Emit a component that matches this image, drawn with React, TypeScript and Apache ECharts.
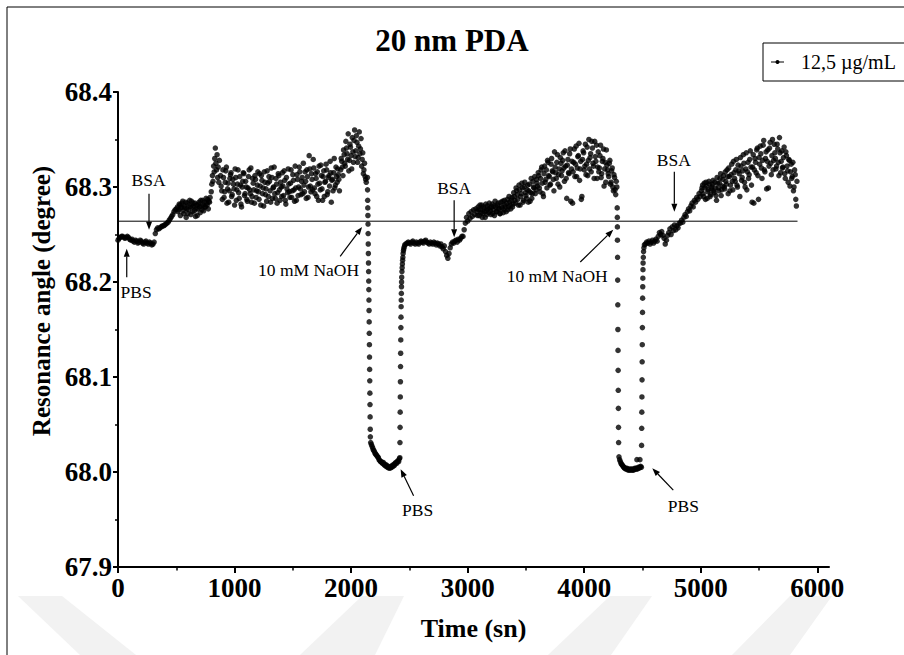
import React, { useEffect, useRef } from "react";
import * as echarts from "echarts";

const FONT = "'Liberation Serif', 'Times New Roman', serif";

// ---------- axes ----------
const X_MIN = 0;
const X_MAX = 6100;
const Y_MIN = 67.9;
const Y_MAX = 68.4;
const Y_INTERVAL = 0.1;
const xMajorTicks = [0, 1000, 2000, 3000, 4000, 5000, 6000];
const xMinorTicks = [500, 1500, 2500, 3500, 4500, 5500];

const titleText = "20 nm PDA";
const seriesName = "12,5 µg/mL";
const xName = "Time (sn)";
const yName = "Resonance angle (degree)";

// horizontal reference line
const referenceLevel = 68.264;
const referenceSpan = [0, 5830];

// ---------- data (time in s, angle in degree) ----------
// PBS baseline: start 0 s, every 10 s
const pbsBaseline = [
  68.244, 68.246, 68.247, 68.248, 68.248, 68.247, 68.246, 68.247, 68.248, 68.247,
  68.245, 68.244, 68.245, 68.243, 68.242, 68.244, 68.243, 68.241, 68.242, 68.244,
  68.243, 68.241, 68.240, 68.242, 68.243, 68.241, 68.240, 68.242, 68.241, 68.239,
  68.240, 68.242,
];
// BSA 1 rise: start 320 s, every 10 s
const bsaRise1 = [
  68.251, 68.255, 68.257, 68.256, 68.257, 68.258, 68.259, 68.259, 68.260, 68.261,
  68.262, 68.263, 68.265, 68.267, 68.269, 68.271, 68.274, 68.276, 68.277,
];
// plateau: start 510 s, every 10 s, plus second read offset by 5 s
const plateau1 = [
  68.279, 68.276, 68.281, 68.278, 68.283, 68.275, 68.280, 68.284, 68.277, 68.272,
  68.281, 68.279, 68.285, 68.274, 68.280, 68.283, 68.277, 68.270, 68.282, 68.279,
  68.286, 68.276, 68.281, 68.284, 68.279, 68.283, 68.287, 68.285, 68.289,
];
const plateau1b = [
  68.274, 68.282, 68.270, 68.279, 68.285, 68.272, 68.278, 68.268, 68.283, 68.276,
  68.286, 68.271, 68.279, 68.283, 68.275, 68.269, 68.281, 68.277, 68.284, 68.273,
  68.280, 68.286, 68.275, 68.279, 68.288, 68.281, 68.277, 68.284,
];
// jump: start 800 s, every 5 s
const jump1 = [
  68.295, 68.303, 68.312, 68.306, 68.322, 68.316, 68.330, 68.341, 68.325, 68.318,
  68.334, 68.310, 68.321, 68.305, 68.328,
];
// noisy band: start 880 s, every 10 s, plus second read offset by 5 s
const band1 = [
  68.312, 68.296, 68.318, 68.289, 68.305, 68.321, 68.298, 68.284, 68.309, 68.315,
  68.292, 68.303, 68.281, 68.310, 68.297, 68.318, 68.288, 68.302, 68.279, 68.306,
  68.314, 68.293, 68.300, 68.285, 68.311, 68.297, 68.320, 68.290, 68.304, 68.283,
  68.308, 68.296, 68.316, 68.287, 68.301, 68.312, 68.293, 68.280, 68.305, 68.298,
  68.317, 68.290, 68.306, 68.284, 68.310, 68.299, 68.321, 68.288, 68.303, 68.294,
  68.312, 68.286, 68.300, 68.315, 68.291, 68.307, 68.282, 68.298, 68.319, 68.295,
  68.304, 68.289, 68.313, 68.297, 68.322, 68.286, 68.308, 68.300, 68.316, 68.292,
  68.310, 68.325, 68.295, 68.306, 68.318, 68.289, 68.333, 68.301, 68.314, 68.297,
  68.320, 68.293, 68.309, 68.316, 68.286, 68.304, 68.323, 68.298, 68.311, 68.290,
  68.306, 68.318, 68.295, 68.312, 68.327, 68.284, 68.308, 68.315, 68.299, 68.321,
  68.305, 68.313, 68.296,
];
const band1b = [
  68.301, 68.287, 68.310, 68.295, 68.317, 68.283, 68.304, 68.296, 68.313, 68.290,
  68.308, 68.298, 68.319, 68.286, 68.303, 68.294, 68.311, 68.282, 68.300, 68.315,
  68.291, 68.306, 68.287, 68.299, 68.318, 68.293, 68.284, 68.309, 68.297, 68.312,
  68.289, 68.302, 68.295, 68.314, 68.281, 68.307, 68.299, 68.316, 68.292, 68.285,
  68.304, 68.311, 68.296, 68.320, 68.288, 68.300, 68.293, 68.309, 68.283, 68.314,
  68.297, 68.305, 68.290, 68.301, 68.317, 68.286, 68.310, 68.294, 68.303, 68.289,
  68.318, 68.296, 68.307, 68.285, 68.299, 68.313, 68.291, 68.321, 68.298, 68.306,
  68.293, 68.302, 68.316, 68.288, 68.311, 68.300, 68.319, 68.295, 68.308, 68.329,
  68.299, 68.314, 68.290, 68.303, 68.322, 68.297, 68.312, 68.286, 68.317, 68.305,
  68.324, 68.292, 68.310, 68.301, 68.315, 68.307, 68.296, 68.330, 68.302, 68.311,
  68.319, 68.308,
];
// peak before NaOH: start 1910 s, every 10 s (two interleaved reads)
const peak1a = [
  68.318, 68.327, 68.312, 68.334, 68.322, 68.341, 68.329, 68.317, 68.345, 68.333,
  68.352, 68.326, 68.360, 68.338, 68.347, 68.331, 68.358, 68.340, 68.322, 68.336,
  68.318, 68.311, 68.305,
];
const peak1b = [
  68.330, 68.321, 68.339, 68.325, 68.348, 68.335, 68.356, 68.328, 68.342, 68.319,
  68.337, 68.349, 68.332, 68.354, 68.326, 68.343, 68.335, 68.351, 68.329, 68.314,
  68.325, 68.308,
];
// NaOH drop 1: [time, angle]
const drop1 = [
  [2140, 68.310], [2141, 68.297], [2142, 68.286], [2143, 68.278], [2144, 68.270],
  [2145, 68.261], [2146, 68.251], [2147, 68.240], [2148, 68.230], [2149, 68.220],
  [2150, 68.211], [2151, 68.201], [2152, 68.192], [2153, 68.181], [2154, 68.170],
  [2155, 68.158], [2156, 68.146], [2157, 68.134], [2158, 68.121], [2159, 68.108],
  [2160, 68.096], [2161, 68.083], [2162, 68.071], [2163, 68.058], [2164, 68.045],
  [2165, 68.037],
];
// NaOH bottom 1: start 2168 s, every 6 s
const bottom1 = [
  68.031, 68.029, 68.027, 68.025, 68.023, 68.022, 68.020, 68.019, 68.018, 68.017,
  68.016, 68.015, 68.013, 68.012, 68.011, 68.011, 68.010, 68.009, 68.010, 68.008,
  68.007, 68.008, 68.006, 68.007, 68.005, 68.006, 68.004, 68.005, 68.004, 68.006,
  68.005, 68.007, 68.006, 68.008, 68.007, 68.009, 68.010, 68.009, 68.011, 68.012,
  68.011, 68.014,
];
// PBS recovery 1: [time, angle]
const rise1 = [
  [2418, 68.015], [2419, 68.031], [2420, 68.047], [2421, 68.063], [2422, 68.079],
  [2423, 68.095], [2424, 68.111], [2425, 68.125], [2426, 68.139], [2427, 68.152],
  [2428, 68.163], [2429, 68.174], [2430, 68.181], [2431, 68.188], [2432, 68.195],
  [2433, 68.200], [2434, 68.205], [2436, 68.211], [2438, 68.215], [2440, 68.219],
  [2442, 68.223], [2444, 68.226], [2446, 68.230], [2449, 68.233], [2452, 68.235],
  [2456, 68.237], [2460, 68.239],
];
// plateau 2: start 2470 s, every 10 s
const plateau2 = [
  68.240, 68.241, 68.242, 68.241, 68.240, 68.242, 68.243, 68.241, 68.240, 68.242,
  68.241, 68.240, 68.242, 68.243, 68.242, 68.241, 68.243, 68.244, 68.242, 68.241,
  68.240, 68.242, 68.241, 68.240, 68.242, 68.241, 68.239, 68.241, 68.240, 68.238,
  68.240, 68.237, 68.235, 68.238, 68.232, 68.228, 68.225, 68.230, 68.236, 68.240,
  68.242, 68.241, 68.243, 68.244, 68.242, 68.245, 68.244, 68.246, 68.248,
];
// BSA 2 rise: start 2960 s, every 10 s
const bsaRise2 = [
  68.248, 68.255, 68.262, 68.268, 68.264, 68.272, 68.267, 68.274, 68.269, 68.276,
  68.271, 68.277,
];
// band after BSA 2: start 3080 s, every 10 s, plus second read offset by 5 s
const band2a = [
  68.274, 68.279, 68.270, 68.276, 68.281, 68.272, 68.277, 68.268, 68.275, 68.280,
  68.273, 68.278, 68.271, 68.282, 68.276, 68.270, 68.279, 68.274, 68.283, 68.277,
  68.272, 68.280, 68.285, 68.276, 68.281, 68.274, 68.287, 68.279, 68.284, 68.277,
  68.289, 68.282,
];
const band2aB = [
  68.270, 68.276, 68.281, 68.273, 68.268, 68.279, 68.274, 68.282, 68.271, 68.277,
  68.283, 68.275, 68.279, 68.272, 68.280, 68.285, 68.274, 68.281, 68.277, 68.272,
  68.284, 68.278, 68.273, 68.286, 68.279, 68.283, 68.276, 68.290, 68.281, 68.286,
  68.279, 68.294,
];
// noisy band 2: start 3400 s, every 10 s, plus second read offset by 5 s
const band2b = [
  68.290, 68.283, 68.296, 68.287, 68.302, 68.281, 68.293, 68.299, 68.286, 68.305,
  68.291, 68.297, 68.284, 68.303, 68.294, 68.288, 68.306, 68.299, 68.293, 68.308,
  68.301, 68.312, 68.295, 68.318, 68.304, 68.290, 68.322, 68.308, 68.299, 68.326,
  68.311, 68.303, 68.330, 68.316, 68.296, 68.321, 68.309, 68.334, 68.313, 68.300,
  68.325, 68.317, 68.336, 68.306, 68.322, 68.288, 68.329, 68.314, 68.340, 68.319,
  68.283, 68.326, 68.311, 68.343, 68.320, 68.333, 68.307, 68.327, 68.290, 68.338,
  68.318, 68.345, 68.324, 68.312, 68.350, 68.331, 68.316, 68.341, 68.322, 68.348,
  68.327, 68.309, 68.337, 68.320, 68.344, 68.314, 68.330, 68.301, 68.326, 68.339,
  68.318, 68.311, 68.328, 68.305, 68.320, 68.296, 68.310, 68.292, 68.300,
];
const band2bB = [
  68.286, 68.299, 68.292, 68.281, 68.297, 68.290, 68.304, 68.284, 68.300, 68.294,
  68.288, 68.302, 68.296, 68.285, 68.309, 68.293, 68.300, 68.311, 68.297, 68.304,
  68.315, 68.299, 68.309, 68.321, 68.293, 68.314, 68.305, 68.318, 68.328, 68.312,
  68.302, 68.324, 68.317, 68.308, 68.337, 68.315, 68.326, 68.303, 68.319, 68.331,
  68.312, 68.328, 68.320, 68.338, 68.309, 68.323, 68.315, 68.335, 68.285, 68.327,
  68.316, 68.340, 68.324, 68.311, 68.332, 68.346, 68.319, 68.287, 68.329, 68.336,
  68.322, 68.313, 68.342, 68.328, 68.319, 68.335, 68.348, 68.325, 68.309, 68.332,
  68.344, 68.321, 68.316, 68.333, 68.310, 68.327, 68.340, 68.319, 68.305, 68.323,
  68.314, 68.325, 68.303, 68.317, 68.300, 68.313, 68.297, 68.306,
];
// NaOH drop 2: [time, angle]
const drop2 = [
  [4283, 68.278], [4284, 68.268], [4284.5, 68.258], [4285, 68.244], [4286, 68.226],
  [4287, 68.202], [4288, 68.176], [4289, 68.150], [4290, 68.128], [4291, 68.107],
  [4292, 68.086], [4293, 68.067], [4294, 68.047], [4295, 68.031],
];
// NaOH bottom 2: start 4298 s, every 6 s
const bottom2 = [
  68.016, 68.013, 68.011, 68.009, 68.008, 68.007, 68.006, 68.005, 68.004, 68.004,
  68.003, 68.004, 68.003, 68.002, 68.003, 68.002, 68.003, 68.002, 68.003, 68.002,
  68.003, 68.002, 68.003, 68.004, 68.003, 68.004, 68.003, 68.004, 68.005, 68.004,
  68.005, 68.006, 68.005,
];
// PBS recovery 2: [time, angle]
const rise2 = [
  [4452, 68.013], [4478, 68.013], [4492, 68.028], [4493, 68.046], [4494, 68.063],
  [4495, 68.079], [4496, 68.097], [4497, 68.116], [4498, 68.134], [4499, 68.152],
  [4500, 68.168], [4501, 68.183], [4502, 68.195], [4503, 68.204], [4504, 68.213],
  [4505, 68.220], [4507, 68.226], [4509, 68.232], [4512, 68.236], [4516, 68.239],
];
// plateau 3: start 4525 s, every 10 s
const plateau3 = [
  68.240, 68.242, 68.241, 68.243, 68.240, 68.242, 68.244, 68.241, 68.243, 68.245,
  68.243, 68.248, 68.252, 68.250, 68.253, 68.249, 68.246, 68.240, 68.244, 68.249,
  68.252, 68.256, 68.250, 68.258, 68.254, 68.260, 68.255, 68.259, 68.257, 68.262,
];
// BSA 3 rise: start 4825 s, every 10 s
const bsaRise3 = [
  68.262, 68.265, 68.263, 68.268, 68.271, 68.269, 68.274, 68.277, 68.275, 68.280,
  68.283, 68.279, 68.286, 68.284, 68.289, 68.287, 68.293, 68.290,
];
// noisy band 3: start 5005 s, every 10 s, plus second read offset by 5 s
const band3 = [
  68.296, 68.302, 68.290, 68.299, 68.305, 68.288, 68.297, 68.303, 68.292, 68.300,
  68.307, 68.294, 68.299, 68.286, 68.304, 68.296, 68.309, 68.291, 68.301, 68.312,
  68.298, 68.306, 68.318, 68.293, 68.311, 68.302, 68.324, 68.297, 68.315, 68.306,
  68.329, 68.300, 68.317, 68.290, 68.322, 68.310, 68.334, 68.305, 68.319, 68.297,
  68.326, 68.313, 68.338, 68.302, 68.321, 68.283, 68.330, 68.315, 68.341, 68.287,
  68.324, 68.335, 68.309, 68.344, 68.318, 68.330, 68.298, 68.339, 68.322, 68.347,
  68.313, 68.350, 68.328, 68.336, 68.319, 68.345, 68.326, 68.352, 68.315, 68.338,
  68.321, 68.342, 68.309, 68.333, 68.317, 68.329, 68.301, 68.324, 68.311, 68.296,
  68.318, 68.287, 68.306,
];
const band3b = [
  68.299, 68.293, 68.304, 68.287, 68.301, 68.295, 68.306, 68.290, 68.298, 68.303,
  68.296, 68.305, 68.291, 68.310, 68.299, 68.304, 68.314, 68.297, 68.308, 68.300,
  68.316, 68.303, 68.311, 68.320, 68.296, 68.313, 68.306, 68.327, 68.309, 68.318,
  68.302, 68.323, 68.314, 68.331, 68.307, 68.317, 68.325, 68.300, 68.336, 68.316,
  68.309, 68.329, 68.321, 68.284, 68.334, 68.318, 68.326, 68.339, 68.312, 68.331,
  68.343, 68.320, 68.328, 68.349, 68.316, 68.337, 68.327, 68.299, 68.341, 68.325,
  68.333, 68.318, 68.345, 68.330, 68.322, 68.340, 68.312, 68.336, 68.327, 68.320,
  68.331, 68.314, 68.337, 68.322, 68.305, 68.328, 68.316, 68.309, 68.326, 68.300,
  68.313, 68.280,
];

// ---------- annotations (data coordinates) ----------
const annotationLabels = ["PBS", "BSA", "10 mM NaOH", "PBS", "BSA", "10 mM NaOH", "PBS", "BSA"];
const annotationLabelAt = [
  [155, 68.189], [262, 68.307], [1635, 68.213], [2571, 67.960],
  [2884, 68.299], [3768, 68.206], [4850, 67.964], [4768, 68.328],
];
const annotationTail = [
  [75, 68.205], [266, 68.293], [1906, 68.227], [2536, 67.975],
  [2884, 68.286], [3966, 68.221], [4764, 67.981], [4773, 68.316],
];
const annotationHead = [
  [75, 68.235], [266, 68.255], [2094, 68.258], [2425, 68.003],
  [2884, 68.247], [4249, 68.255], [4584, 68.004], [4773, 68.274],
];

const onGrid = (t0: number, dt: number, ys: number[]) => ys.map((y, i) => [t0 + i * dt, y]);

const points: number[][] = [
  ...onGrid(0, 10, pbsBaseline),
  ...onGrid(320, 10, bsaRise1),
  ...onGrid(510, 10, plateau1),
  ...onGrid(515, 10, plateau1b),
  ...onGrid(800, 5, jump1),
  ...onGrid(880, 10, band1),
  ...onGrid(885, 10, band1b),
  ...onGrid(1910, 10, peak1a),
  ...onGrid(1915, 10, peak1b),
  ...drop1,
  ...onGrid(2168, 6, bottom1),
  ...rise1,
  ...onGrid(2470, 10, plateau2),
  ...onGrid(2960, 10, bsaRise2),
  ...onGrid(3080, 10, band2a),
  ...onGrid(3085, 10, band2aB),
  ...onGrid(3400, 10, band2b),
  ...onGrid(3405, 10, band2bB),
  ...drop2,
  ...onGrid(4298, 6, bottom2),
  ...rise2,
  ...onGrid(4525, 10, plateau3),
  ...onGrid(4825, 10, bsaRise3),
  ...onGrid(5005, 10, band3),
  ...onGrid(5010, 10, band3b),
];

const staticGraphics: any[] = [
  // watermark
  { type: "polygon", silent: true, z: -10, shape: { points: [[18, 596], [62, 596], [136, 655], [80, 655]] }, style: { fill: "#f2f2f2" } },
  { type: "polygon", silent: true, z: -10, shape: { points: [[362, 596], [404, 596], [375, 655], [300, 655]] }, style: { fill: "#f2f2f2" } },
  { type: "polygon", silent: true, z: -10, shape: { points: [[610, 596], [652, 596], [611, 655], [548, 655]] }, style: { fill: "#f2f2f2" } },
  { type: "polygon", silent: true, z: -10, shape: { points: [[790, 596], [832, 596], [790, 655], [732, 655]] }, style: { fill: "#f2f2f2" } },
  // outer frame
  { type: "rect", silent: true, z: 1, shape: { x: 7, y: 7, width: 1000, height: 1000 }, style: { fill: "none", stroke: "#000", lineWidth: 1 } },
  // legend
  { type: "rect", silent: true, z: 5, shape: { x: 763, y: 43, width: 200, height: 38 }, style: { fill: "#fff", stroke: "#000", lineWidth: 1 } },
  { type: "line", silent: true, z: 6, shape: { x1: 771, y1: 62, x2: 784, y2: 62 }, style: { stroke: "#000", lineWidth: 1 } },
  { type: "circle", silent: true, z: 6, shape: { cx: 777.5, cy: 62, r: 2 }, style: { fill: "#000" } },
  {
    type: "text", silent: true, z: 6, x: 801, y: 62,
    style: { text: seriesName, font: `20px ${FONT}`, fill: "#000", textAlign: "left", align: "left", textVerticalAlign: "middle", verticalAlign: "middle" },
  },
  // y axis name
  {
    type: "text", silent: true, z: 6, x: 41, y: 301, rotation: Math.PI / 2,
    style: { text: yName, font: `bold 25px ${FONT}`, fill: "#000", textAlign: "center", align: "center", textVerticalAlign: "middle", verticalAlign: "middle" },
  },
];

export default function App() {
  const ref = useRef<HTMLDivElement>(null);

  useEffect(() => {
    if (!ref.current) return;
    const chart = echarts.init(ref.current, null, { renderer: "svg" });
    const option: any = {
      animation: false,
      backgroundColor: "#fff",
      title: {
        text: titleText,
        left: "center",
        top: 20,
        textStyle: { fontFamily: FONT, fontWeight: "bold", fontSize: 31, color: "#000" },
      },
      grid: { left: 118, right: 75, top: 92, bottom: 88 },
      xAxis: [
        {
          type: "value",
          min: X_MIN,
          max: X_MAX,
          interval: 1000,
          name: xName,
          nameLocation: "middle",
          nameGap: 48,
          nameTextStyle: { fontFamily: FONT, fontWeight: "bold", fontSize: 26, color: "#000" },
          axisLine: { show: true, onZero: false, lineStyle: { color: "#000", width: 2 } },
          axisTick: { show: true, customValues: xMajorTicks, length: 6, lineStyle: { color: "#000", width: 2 } },
          axisLabel: {
            customValues: xMajorTicks,
            margin: 7,
            fontFamily: FONT,
            fontWeight: "bold",
            fontSize: 27,
            color: "#000",
            formatter: (v: number) => String(Math.round(v)),
          },
          splitLine: { show: false },
        },
        {
          type: "value",
          min: X_MIN,
          max: X_MAX,
          position: "bottom",
          axisLine: { show: false },
          axisTick: { show: true, customValues: xMinorTicks, length: 3.5, lineStyle: { color: "#000", width: 1.5 } },
          axisLabel: { show: false },
          splitLine: { show: false },
        },
      ],
      yAxis: {
        type: "value",
        min: Y_MIN,
        max: Y_MAX,
        interval: Y_INTERVAL,
        axisLine: { show: true, onZero: false, lineStyle: { color: "#000", width: 2 } },
        axisTick: { show: true, length: 5, lineStyle: { color: "#000", width: 2 } },
        minorTick: { show: true, splitNumber: 2, length: 3, lineStyle: { color: "#000", width: 1.5 } },
        axisLabel: {
          margin: 6,
          fontFamily: FONT,
          fontWeight: "bold",
          fontSize: 27,
          color: "#000",
          formatter: (v: number) => v.toFixed(1),
        },
        splitLine: { show: false },
        minorSplitLine: { show: false },
      },
      series: [
        {
          name: seriesName,
          type: "scatter",
          data: points,
          symbol: "circle",
          symbolSize: 5.5,
          itemStyle: { color: "#000" },
          z: 3,
        },
        {
          name: "reference",
          type: "line",
          data: [
            [referenceSpan[0], referenceLevel],
            [referenceSpan[1], referenceLevel],
          ],
          symbol: "none",
          lineStyle: { color: "#000", width: 1 },
          silent: true,
          z: 2,
        },
      ],
      graphic: staticGraphics,
    };
    chart.setOption(option);

    const toPx = (p: number[]) => chart.convertToPixel({ gridIndex: 0 }, p) as number[];
    const ann: any[] = [];
    annotationLabels.forEach((label, i) => {
      const [tx, ty] = toPx(annotationTail[i]);
      const [hx, hy] = toPx(annotationHead[i]);
      const [lx, ly] = toPx(annotationLabelAt[i]);
      const ang = Math.atan2(hy - ty, hx - tx);
      const L = 8;
      const W = 3;
      const bx = hx - L * Math.cos(ang);
      const by = hy - L * Math.sin(ang);
      const nx = -Math.sin(ang);
      const ny = Math.cos(ang);
      ann.push({ type: "line", silent: true, z: 10, shape: { x1: tx, y1: ty, x2: bx, y2: by }, style: { stroke: "#000", lineWidth: 1.2 } });
      ann.push({
        type: "polygon", silent: true, z: 10,
        shape: { points: [[hx, hy], [bx + nx * W, by + ny * W], [bx - nx * W, by - ny * W]] },
        style: { fill: "#000" },
      });
      ann.push({
        type: "text", silent: true, z: 10, x: lx, y: ly,
        style: { text: label, font: `17.5px ${FONT}`, fill: "#000", textAlign: "center", align: "center", textVerticalAlign: "middle", verticalAlign: "middle" },
      });
    });
    chart.setOption({ graphic: [...staticGraphics, ...ann] });

    return () => chart.dispose();
  }, []);

  return (
    <div
      ref={ref}
      style={{ position: "fixed", left: 0, top: 0, width: 904, height: 655, background: "#fff" }}
    />
  );
}
